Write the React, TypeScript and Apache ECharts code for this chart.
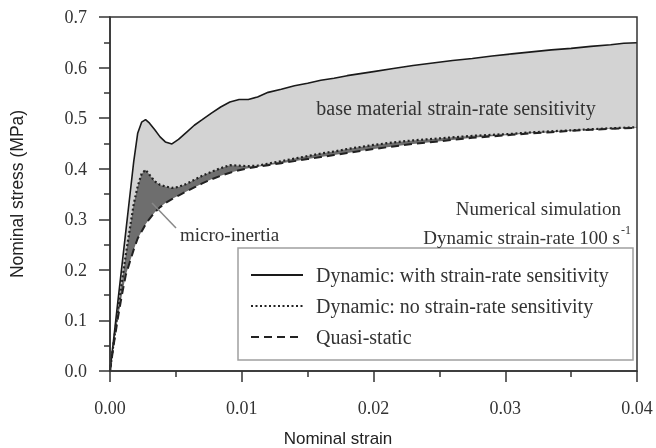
import React, { useEffect, useRef } from "react";
import * as echarts from "echarts";

// Nominal strain samples (shared by the three curves)
const strain = [
  0, 0.0003, 0.0006, 0.0009, 0.0012, 0.0015, 0.0018, 0.0021, 0.0024, 0.0027,
  0.003, 0.0034, 0.0038, 0.0042, 0.0047, 0.0052, 0.0058, 0.0064, 0.007, 0.0077,
  0.0084, 0.0091, 0.0098, 0.0105, 0.0112, 0.012, 0.013, 0.014, 0.015, 0.016,
  0.017, 0.018, 0.019, 0.02, 0.0215, 0.023, 0.0245, 0.026, 0.0275, 0.029,
  0.0305, 0.032, 0.0335, 0.035, 0.0365, 0.038, 0.039, 0.04,
];

// Dynamic: with strain-rate sensitivity (MPa)
const stressDynRate = [
  0, 0.068, 0.138, 0.207, 0.276, 0.345, 0.414, 0.47, 0.492, 0.497,
  0.49, 0.477, 0.463, 0.453, 0.449, 0.458, 0.472, 0.486, 0.497, 0.51,
  0.522, 0.532, 0.537, 0.537, 0.542, 0.551, 0.557, 0.564, 0.569, 0.575,
  0.579, 0.584, 0.588, 0.592, 0.598, 0.604, 0.609, 0.614, 0.618, 0.623,
  0.627, 0.631, 0.635, 0.638, 0.642, 0.645, 0.648, 0.649,
];

// Dynamic: no strain-rate sensitivity (MPa)
const stressDynNoRate = [
  0, 0.06, 0.12, 0.175, 0.23, 0.28, 0.33, 0.365, 0.39, 0.398,
  0.388, 0.375, 0.368, 0.365, 0.362, 0.364, 0.37, 0.378, 0.386, 0.394,
  0.401, 0.407, 0.406, 0.405, 0.406, 0.41, 0.415, 0.42, 0.425, 0.43,
  0.434, 0.439, 0.443, 0.447, 0.452, 0.456, 0.459, 0.462, 0.465, 0.467,
  0.469, 0.472, 0.474, 0.476, 0.478, 0.48, 0.481, 0.482,
];

// Quasi-static (MPa)
const stressQuasi = [
  0, 0.055, 0.105, 0.15, 0.19, 0.215, 0.24, 0.262, 0.276, 0.29,
  0.301, 0.314, 0.324, 0.332, 0.34, 0.347, 0.355, 0.363, 0.371, 0.379,
  0.386, 0.392, 0.397, 0.401, 0.404, 0.407, 0.411, 0.415, 0.419, 0.423,
  0.427, 0.431, 0.435, 0.439, 0.444, 0.449, 0.453, 0.457, 0.461, 0.464,
  0.467, 0.47, 0.472, 0.475, 0.477, 0.479, 0.48, 0.481,
];

const seriesNames = [
  "Dynamic: with strain-rate sensitivity",
  "Dynamic: no strain-rate sensitivity",
  "Quasi-static",
];

const SERIF = "'Liberation Serif', 'Times New Roman', serif";
const SANS = "'Liberation Sans', Arial, sans-serif";

export default function App() {
  const ref = useRef<HTMLDivElement>(null);

  useEffect(() => {
    const chart = echarts.init(ref.current!, null, { renderer: "svg" });
    const pts = (ys: number[]) => strain.map((x, i) => [x, ys[i]]);
    const fill = (name: string, ys: number[], color: string) => ({
      name,
      type: "line",
      data: pts(ys),
      symbol: "none",
      silent: true,
      lineStyle: { width: 0, opacity: 0 },
      areaStyle: { color, opacity: 1, origin: "start" },
      z: 1,
    });

    const option: any = {
      animation: false,
      grid: {
        left: 107,
        top: 17,
        width: 530,
        height: 354,
        show: true,
        borderColor: "#333",
        borderWidth: 1.5,
        backgroundColor: "transparent",
        z: 10,
      },
      xAxis: {
        type: "value",
        min: 0,
        max: 0.04,
        interval: 0.01,
        z: 11,
        axisLine: { show: true, lineStyle: { color: "#333", width: 1.5 } },
        axisTick: { show: true, length: 11, lineStyle: { color: "#333", width: 1.5 } },
        minorTick: { show: true, splitNumber: 2, length: 6, lineStyle: { color: "#333", width: 1.5 } },
        splitLine: { show: false },
        axisLabel: {
          margin: 28,
          color: "#333",
          fontFamily: SERIF,
          fontSize: 18,
          formatter: (v: number) => v.toFixed(2),
        },
      },
      yAxis: {
        type: "value",
        min: 0,
        max: 0.7,
        interval: 0.1,
        z: 11,
        name: "Nominal stress (MPa)",
        nameLocation: "middle",
        nameGap: 84,
        nameTextStyle: { fontFamily: SANS, fontSize: 17.5, color: "#222" },
        axisLine: { show: true, lineStyle: { color: "#333", width: 1.5 } },
        axisTick: { show: true, length: 11, lineStyle: { color: "#333", width: 1.5 } },
        minorTick: { show: true, splitNumber: 2, length: 6, lineStyle: { color: "#333", width: 1.5 } },
        splitLine: { show: false },
        axisLabel: {
          margin: 23,
          color: "#333",
          fontFamily: SERIF,
          fontSize: 18,
          formatter: (v: number) => v.toFixed(1),
        },
      },
      legend: {
        data: seriesNames,
        orient: "vertical",
        left: 250,
        top: 265,
        padding: 0,
        itemWidth: 52,
        itemHeight: 20,
        itemGap: 11,
        selectedMode: false,
        z: 20,
        itemStyle: { opacity: 0 },
        textStyle: {
          fontFamily: SERIF,
          fontSize: 20,
          color: "#333",
          padding: [0, 0, 0, 8],
        },
      },
      series: [
        fill("fillRate", stressDynRate, "#d3d3d3"),
        fill("fillInertia", stressDynNoRate, "#6e6e6e"),
        fill("fillBase", stressQuasi, "#ffffff"),
        {
          name: seriesNames[0],
          type: "line",
          data: pts(stressDynRate),
          symbol: "none",
          lineStyle: { color: "#1a1a1a", width: 1.6 },
          z: 3,
        },
        {
          name: seriesNames[1],
          type: "line",
          data: pts(stressDynNoRate),
          symbol: "none",
          lineStyle: { color: "#222", width: 2.2, type: [2, 2.5] },
          z: 3,
        },
        {
          name: seriesNames[2],
          type: "line",
          data: pts(stressQuasi),
          symbol: "none",
          lineStyle: { color: "#222", width: 2, type: [8, 5] },
          z: 3,
        },
      ],
      graphic: [
        {
          type: "rect",
          z: 11,
          shape: { x: 238, y: 248, width: 395, height: 112 },
          style: { fill: "#ffffff", stroke: "#a0a0a0", lineWidth: 1.5 },
        },
        {
          type: "text",
          z: 20,
          x: 338,
          y: 438,
          style: {
            text: "Nominal strain",
            fontFamily: SANS,
            fontSize: 17,
            fill: "#222",
            align: "center",
            verticalAlign: "middle",
          },
        },
        {
          type: "text",
          z: 20,
          x: 456,
          y: 108,
          style: {
            text: "base material strain-rate sensitivity",
            fontFamily: SERIF,
            fontSize: 20,
            fill: "#333",
            align: "center",
            verticalAlign: "middle",
          },
        },
        {
          type: "line",
          z: 20,
          shape: { x1: 152, y1: 203, x2: 176, y2: 228 },
          style: { stroke: "#888", lineWidth: 1.5 },
        },
        {
          type: "text",
          z: 20,
          x: 180,
          y: 234,
          style: {
            text: "micro-inertia",
            fontFamily: SERIF,
            fontSize: 19,
            fill: "#333",
            align: "left",
            verticalAlign: "middle",
          },
        },
        {
          type: "text",
          z: 20,
          x: 621,
          y: 208,
          style: {
            text: "Numerical simulation",
            fontFamily: SERIF,
            fontSize: 19,
            fill: "#333",
            align: "right",
            verticalAlign: "middle",
          },
        },
        {
          type: "text",
          z: 20,
          x: 620,
          y: 237,
          style: {
            text: "Dynamic strain-rate 100 s",
            fontFamily: SERIF,
            fontSize: 19,
            fill: "#333",
            align: "right",
            verticalAlign: "middle",
          },
        },
        {
          type: "text",
          z: 20,
          x: 621,
          y: 230,
          style: {
            text: "-1",
            fontFamily: SERIF,
            fontSize: 12,
            fill: "#333",
            align: "left",
            verticalAlign: "middle",
          },
        },
      ],
    };

    chart.setOption(option);
    return () => chart.dispose();
  }, []);

  return (
    <div
      ref={ref}
      style={{ position: "fixed", left: 0, top: 0, width: 656, height: 448 }}
    />
  );
}
